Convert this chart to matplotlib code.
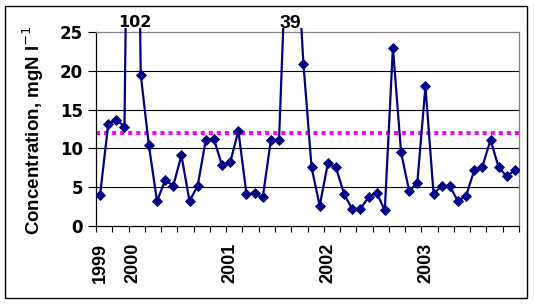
import matplotlib
matplotlib.use("Agg")
import matplotlib.pyplot as plt
from matplotlib.patches import Rectangle
from matplotlib.transforms import Bbox, TransformedBbox, blended_transform_factory
import pandas as pd

# ---- data ----
months = [str(p) for p in pd.period_range("1999-09", "2003-12", freq="M")]
concentration = [4.0, 13.1, 13.7, 12.8, 102, 19.5, 10.4, 3.2, 5.9, 5.2,
                 9.1, 3.2, 5.2, 11.1, 11.2, 7.8, 8.2, 12.3, 4.1, 4.2,
                 3.7, 11.1, 11.1, 39, 39, 20.9, 7.55, 2.6, 8.06, 7.55,
                 4.1, 2.2, 2.2, 3.7, 4.3, 2.0, 23.0, 9.5, 4.5, 5.6,
                 18.0, 4.1, 5.2, 5.1, 3.2, 3.9, 7.2, 7.65, 11.1, 7.55,
                 6.4, 7.2]
threshold = 12.0
y_ticks = [0, 5, 10, 15, 20, 25]
year_labels = [m[:4] if (i == 0 or m.endswith("-01")) else "" for i, m in enumerate(months)]

# ---- figure ----
W, H = 534, 304
fig = plt.figure(figsize=(W / 100, H / 100), dpi=100)
fig.patch.set_facecolor("white")
ax = fig.add_axes([96 / W, 1 - 226 / H, 423 / W, 194 / H])

x = list(range(len(concentration)))
ax.set_xlim(-0.5, len(concentration) - 0.5)
ax.set_ylim(0, 25)

# gridlines
for v in y_ticks[1:-1]:
    ax.axhline(v, color="black", lw=0.8, zorder=1)

# threshold line
ax.axhline(threshold, color="#FF00FF", lw=2.9, dashes=(1.0, 1.0),
           dash_capstyle="butt", zorder=2)

# data line
line, = ax.plot(x, concentration, color="#000080", lw=1.6, marker="D",
                markersize=5.4, markerfacecolor="#000080",
                markeredgecolor="#000080", markeredgewidth=0.6, zorder=3)
clip = TransformedBbox(Bbox([[96 / W, 0.0], [519 / W, 1 - 27.5 / H]]), fig.transFigure)
line.set_clip_box(clip)

# off-scale labels
tr = blended_transform_factory(ax.transData, ax.transAxes)
ax.text(4.3, (226 - 27) / 194, "102", transform=tr, ha="center", va="baseline",
        fontsize=11.5, fontweight="bold", family="DejaVu Sans", clip_on=False)
ax.text(23.35, (226 - 28) / 194, "39", transform=tr, ha="center", va="baseline",
        fontsize=14, fontweight="bold", family="Liberation Sans", clip_on=False)

# y axis
ax.set_yticks(y_ticks)
ax.set_yticklabels([str(v) for v in y_ticks], fontsize=12, fontweight="bold",
                   family="DejaVu Sans")
ax.tick_params(axis="y", direction="out", length=6, width=0.8, pad=3.5, color="black")

# x axis: major ticks at category boundaries every 2 categories
ax.set_xticks([i - 0.5 for i in range(0, len(concentration) + 1, 2)])
ax.set_xticklabels([])
ax.tick_params(axis="x", which="major", direction="out", length=4.3, width=0.8)
lab_pos = [i for i, l in enumerate(year_labels) if l]
ax.set_xticks(lab_pos, minor=True)
ax.set_xticklabels([year_labels[i] for i in lab_pos], minor=True, rotation=90,
                   fontsize=13, fontweight="bold", family="Liberation Sans")
ax.tick_params(axis="x", which="minor", length=0, pad=12.2)

# spines
ax.spines["left"].set_color("black")
ax.spines["bottom"].set_color("black")
ax.spines["top"].set_color("#808080")
ax.spines["right"].set_color("#808080")
for s in ax.spines.values():
    s.set_linewidth(0.9)

# y label
ax.set_ylabel("Concentration, mgN l$^{-1}$", fontsize=13.5, fontweight="bold",
              family="Liberation Sans")
ax.yaxis.label.set_va("center")
ax.yaxis.set_label_coords((33 - 96) / 423, (226 - 130.5) / 194)

# outer chart border
fig.patches.append(Rectangle((5 / W, 1 - 298 / H), 522 / W, 292 / H,
                             transform=fig.transFigure, fill=False,
                             edgecolor="black", lw=1.0))

fig.savefig("out.png", dpi=100)
